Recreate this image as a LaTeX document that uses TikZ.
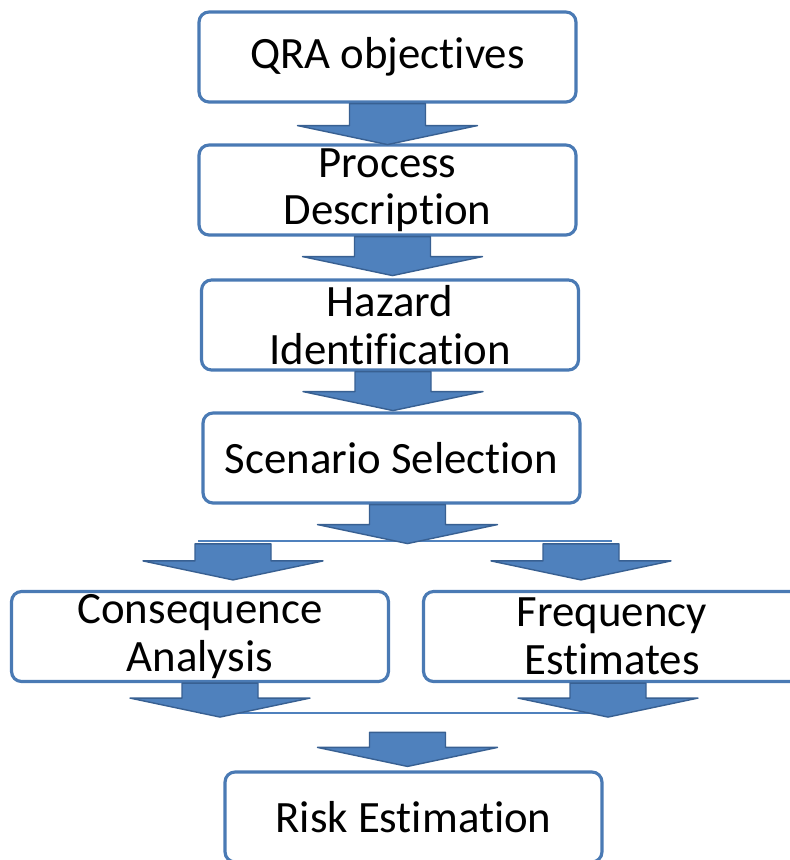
\documentclass[tikz,border=0pt]{standalone}
\usepackage{fontspec}
\setmainfont{Carlito}[RawFeature={-liga}]
\usepackage{tikz}
\usetikzlibrary{calc,positioning}
\definecolor{boxblue}{RGB}{74,122,180}
\definecolor{arrowblue}{RGB}{79,129,189}
\definecolor{arrowedge}{RGB}{56,96,146}
\tikzset{
  fatarrow/.pic={
    \filldraw[fill=arrowblue,draw=arrowedge,line width=0.8pt,line join=round]
      (-38,0) -- (38,0) -- (38,#1) -- (90,#1) -- (0,#1+19) -- (-90,#1) -- (-38,#1) -- cycle;
  }
}

\begin{document}
\begin{tikzpicture}[x=0.02cm,y=-0.02cm,
  font=\fontsize{25.5}{27}\selectfont,
  stage/.style={draw=boxblue,line width=1.8pt,rounded corners=0.2cm,fill=white,
    minimum width=7.54cm,minimum height=1.8cm,align=center,inner sep=0pt},
  bar/.style={draw=arrowblue,line width=1.1pt}]
\useasboundingbox (0,0) rectangle (790,860);
\node[stage] (qra)  at (387.5,57)  {QRA objectives};
\node[stage] (proc) at (387.5,190) {Process\\Description};
\node[stage] (haz)  at (390,325)   {Hazard\\Identification};
\node[stage] (scen) at (391.5,458) {Scenario Selection};
\node[stage] (cons) at (200,636.5) {Consequence\\Analysis};
\node[stage] (freq) at (612,636.5) {Frequency\\Estimates};
\node[stage] (risk) at (413.5,817) {Risk Estimation};
% split and merge bars
\coordinate (splitL) at (198,541);
\coordinate (splitR) at (612,541);
\coordinate (mergeL) at (200,713);
\coordinate (mergeR) at (617,713);
\draw[bar] (splitL) -- (splitR);
\draw[bar] (mergeL) -- (mergeR);
% block arrows
\pic at (qra.south) {fatarrow=22};
\pic at ($(proc.south)+(5,0)$) {fatarrow=20};
\pic at ($(haz.south)+(3,0)$) {fatarrow=20};
\pic at ($(scen.south)+(16,0)$) {fatarrow=20};
\pic at ($(cons.north)+(33,-46)$) {fatarrow=17};
\pic at ($(freq.north)+(-31,-46)$) {fatarrow=17};
\pic at ($(cons.south)+(20,0)$) {fatarrow=15};
\pic at ($(freq.south)+(-4,0)$) {fatarrow=15};
\pic at ($(risk.north)+(-6,-38)$) {fatarrow=15};
\end{tikzpicture}
\end{document}
